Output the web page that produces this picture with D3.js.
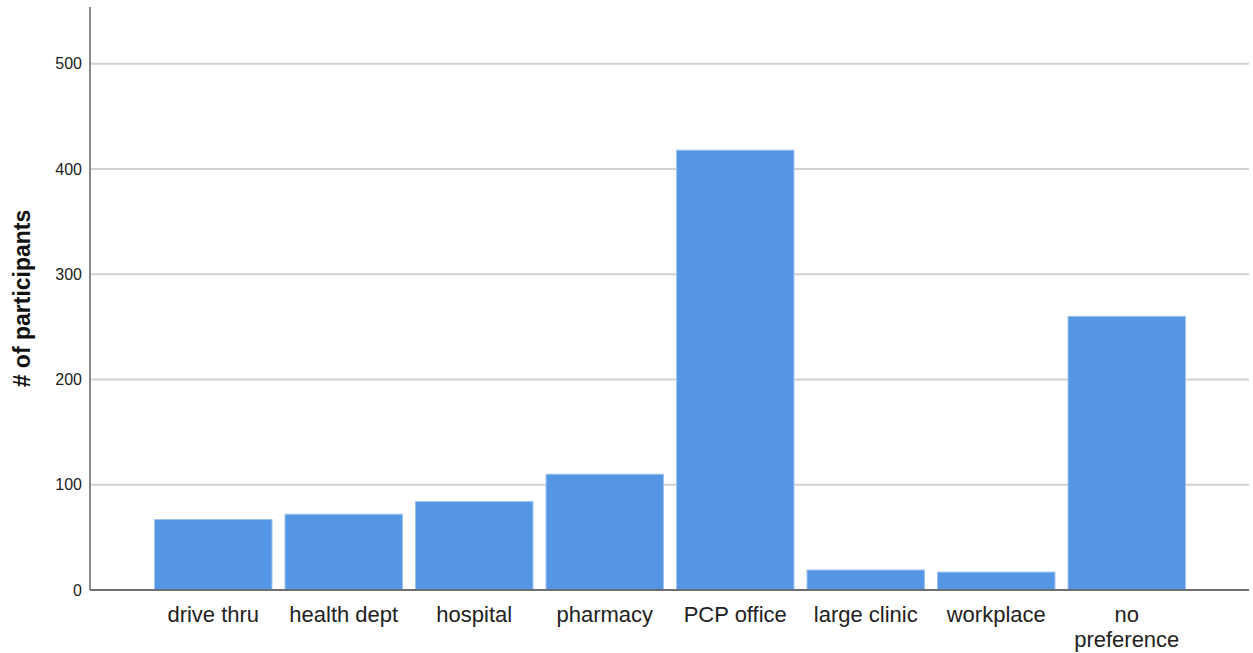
<!DOCTYPE html>
<html>
<head>
<meta charset="utf-8">
<script src="https://cdn.jsdelivr.net/npm/d3@7"></script>
<style>
  html, body { margin: 0; padding: 0; background: #fff; }
  svg { display: block; font-family: "Liberation Sans", Arial, sans-serif; }
</style>
</head>
<body>
<svg id="chart" width="1253" height="653"></svg>
<script>
const categories = ["drive thru", "health dept", "hospital", "pharmacy", "PCP office", "large clinic", "workplace", "no preference"];
const values = [67, 72, 84, 110, 418, 19, 17, 260];
const yTicks = [0, 100, 200, 300, 400, 500];
const yTitle = "# of participants";

const svg = d3.select("#chart");
const plotLeft = 90, plotRight = 1249, plotTop = 7, plotBottom = 590;

const x = d3.scaleBand().domain(categories).range([148, 1192]).paddingInner(0.1).paddingOuter(0.05);
const y = d3.scaleLinear().domain([0, 554]).range([plotBottom, plotTop]);

// gridlines
svg.append("g").selectAll("line").data(yTicks.filter(d => d > 0)).join("line")
  .attr("x1", plotLeft).attr("x2", plotRight)
  .attr("y1", d => y(d)).attr("y2", d => y(d))
  .attr("stroke", "#d2d2d2").attr("stroke-width", 2);

// bars
svg.append("g").selectAll("rect").data(categories).join("rect")
  .attr("x", d => x(d))
  .attr("width", x.bandwidth())
  .attr("y", (d, i) => y(values[i]))
  .attr("height", (d, i) => y(0) - y(values[i]))
  .attr("fill", "#5596e4")
  .attr("stroke", "#9cc2f0").attr("stroke-width", 1);

// y axis
const yAxis = d3.axisLeft(y).tickValues(yTicks).tickSize(0).tickPadding(8);
const gy = svg.append("g").attr("transform", `translate(${plotLeft},0)`).call(yAxis);
gy.select(".domain").remove();
gy.selectAll("text").attr("font-size", 16).attr("fill", "#222")
  .attr("font-family", "'Liberation Sans', Arial, sans-serif");

svg.append("line").attr("x1", plotLeft).attr("x2", plotLeft).attr("y1", plotTop).attr("y2", plotBottom)
  .attr("stroke", "#8a8a8a").attr("stroke-width", 2);

// x axis
const xAxis = d3.axisBottom(x).tickSize(0).tickPadding(0);
const gx = svg.append("g").attr("transform", `translate(0,${plotBottom})`).call(xAxis);
gx.select(".domain").remove();
gx.selectAll("text").remove();
gx.selectAll(".tick").each(function(d) {
  const words = d === "no preference" ? ["no", "preference"] : [d];
  const t = d3.select(this).append("text")
    .attr("text-anchor", "middle")
    .attr("font-size", 22).attr("fill", "#222")
    .attr("font-family", "'Liberation Sans', Arial, sans-serif");
  words.forEach((w, i) => t.append("tspan").attr("x", 0).attr("y", 32 + i * 25).text(w));
});

svg.append("line").attr("x1", plotLeft).attr("x2", plotRight).attr("y1", plotBottom).attr("y2", plotBottom)
  .attr("stroke", "#6e6e6e").attr("stroke-width", 2);

// y title
svg.append("text")
  .attr("transform", `translate(30,${(plotTop + plotBottom) / 2}) rotate(-90)`)
  .attr("text-anchor", "middle")
  .attr("font-size", 23).attr("font-weight", "bold").attr("fill", "#111")
  .text(yTitle);
</script>
</body>
</html>
